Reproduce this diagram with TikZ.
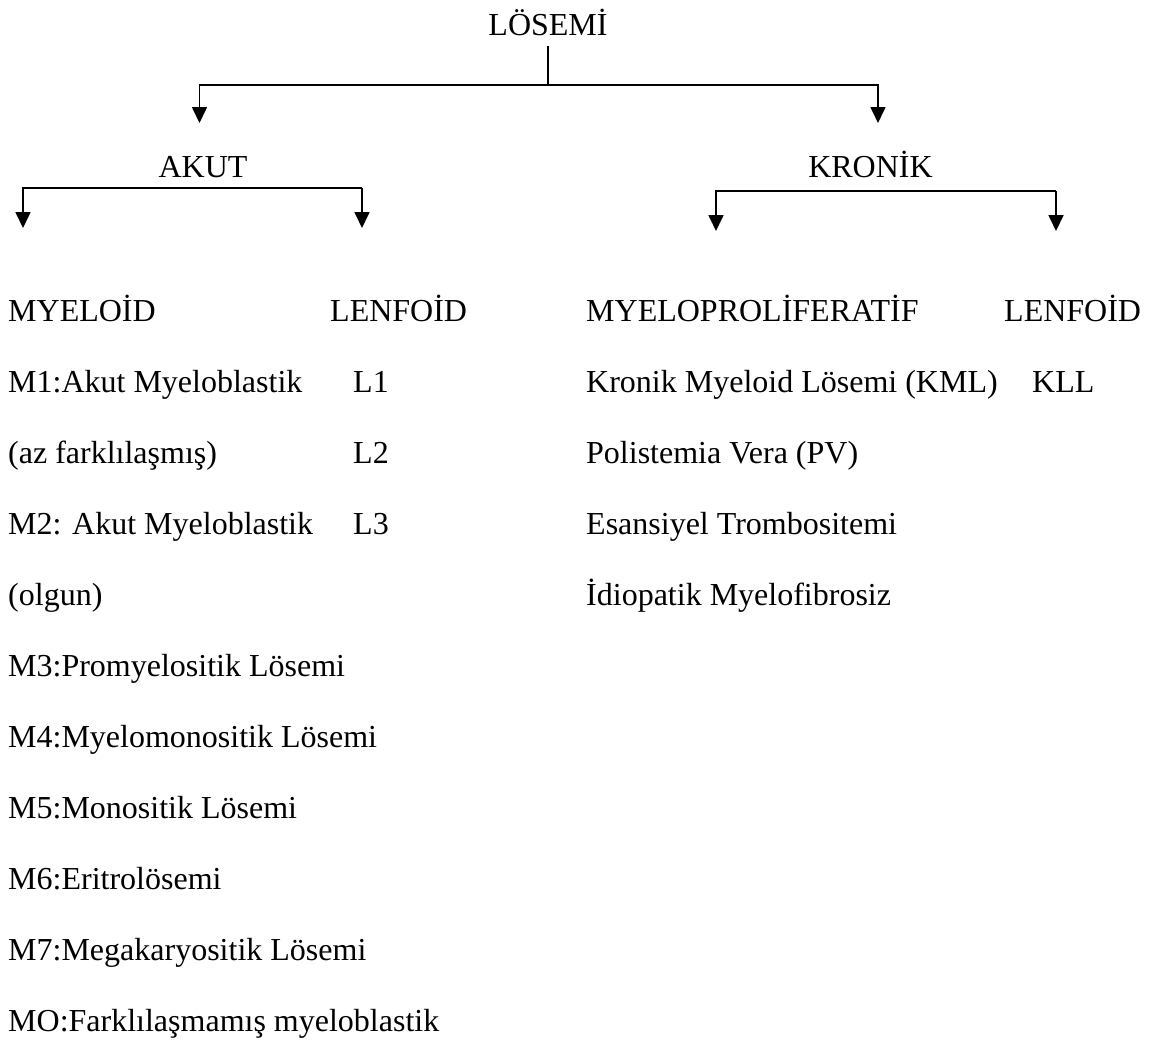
\documentclass[tikz,border=0pt]{standalone}
\usepackage{fontspec}
\setmainfont{Liberation Serif}
\usetikzlibrary{arrows.meta}
\tikzset{
  txt/.style={anchor=base west, inner sep=0pt, font=\fontsize{32}{38}\selectfont},
  head/.style={anchor=base, inner sep=0pt, font=\fontsize{32}{38}\selectfont},
  conn/.style={line width=1.7pt},
  arr/.style={conn, -{Triangle[length=16pt,width=15pt]}},
}
\begin{document}
\begin{tikzpicture}[x=1pt,y=-1pt]
\useasboundingbox (0,0) rectangle (1151,1041);
% headings
\node[head] (los) at (548,36) {LÖSEMİ};
\node[head] (akut) at (203,177) {AKUT};
\node[head] (kron) at (870.5,177) {KRONİK};
% junction coordinates
\coordinate (losj) at (548,85);
\coordinate (akTip) at (199.5,123);
\coordinate (krTip) at (878,123);
\coordinate (akL) at (23,188);
\coordinate (akR) at (362,188);
\coordinate (myTip) at (23,228);
\coordinate (lfTip) at (362,228);
\coordinate (krL) at (716,191);
\coordinate (krR) at (1056,191);
\coordinate (mpTip) at (716,231);
\coordinate (kllTip) at (1056,231);
% top connectors
\draw[line width=1.4pt, shorten <=9pt] (los.south) -- (losj);
\draw[arr] (losj) -| (akTip);
\draw[arr] (losj) -| (krTip);
% akut bracket
\draw[arr] (akR) -- (akL) -- (myTip);
\draw[arr] (akR) -- (lfTip);
% kronik bracket
\draw[arr] (krR) -- (krL) -- (mpTip);
\draw[arr] (krR) -- (kllTip);
% akut lists
\node[txt] (my) at (8,321) {MYELOİD};
\node[txt] (lf) at (330,321) {LENFOİD};
\node[txt] (m1) at (8,392) {M1:Akut Myeloblastik};
\node[txt] (l1) at (353,392) {L1};
\node[txt] (az) at (8,463) {(az farklılaşmış)};
\node[txt] (l2) at (353,463) {L2};
\node[txt] (m2) at (8,534) {M2: Akut Myeloblastik};
\node[txt] (l3) at (353,534) {L3};
\node[txt] (olg) at (8,605) {(olgun)};
\node[txt] (m3) at (8,676) {M3:Promyelositik Lösemi};
\node[txt] (m4) at (8,747) {M4:Myelomonositik Lösemi};
\node[txt] (m5) at (8,818) {M5:Monositik Lösemi};
\node[txt] (m6) at (8,889) {M6:Eritrolösemi};
\node[txt] (m7) at (8,960) {M7:Megakaryositik Lösemi};
\node[txt] (m0) at (8,1031) {MO:Farklılaşmamış myeloblastik};
% kronik lists
\node[txt] (mp) at (586,321) {MYELOPROLİFERATİF};
\node[txt] (lf2) at (1004,321) {LENFOİD};
\node[txt] (kml) at (586,392) {Kronik Myeloid Lösemi (KML)};
\node[txt] (kll) at (1032,392) {KLL};
\node[txt] (pv) at (586,463) {Polistemia Vera (PV)};
\node[txt] (et) at (586,534) {Esansiyel Trombositemi};
\node[txt] (im) at (586,605) {İdiopatik Myelofibrosiz};
\end{tikzpicture}
\end{document}
